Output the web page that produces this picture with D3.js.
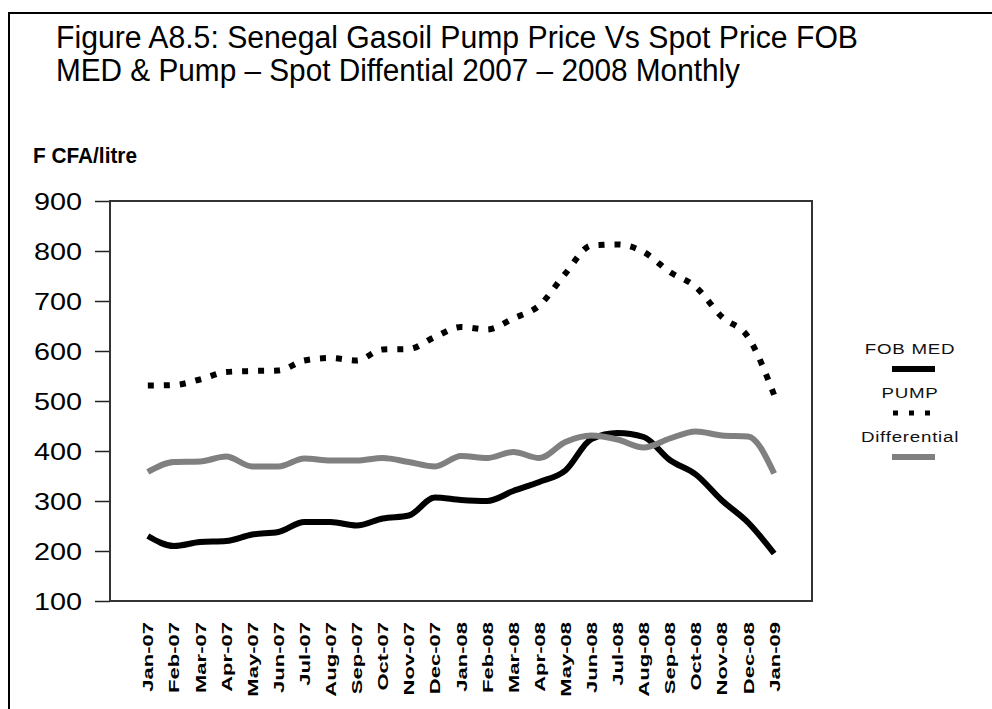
<!DOCTYPE html>
<html>
<head>
<meta charset="utf-8">
<script src="https://cdn.jsdelivr.net/npm/d3@7/dist/d3.min.js"></script>
<style>
  html, body { margin: 0; padding: 0; background: #fff; }
  svg { display: block; font-family: "Liberation Sans", Arial, sans-serif; }
</style>
</head>
<body>
<svg id="chart" width="992" height="709"></svg>
<script>
// Monthly categories, Jan 2007 – Jan 2009
const months = ["Jan-07","Feb-07","Mar-07","Apr-07","May-07","Jun-07","Jul-07","Aug-07",
  "Sep-07","Oct-07","Nov-07","Dec-07","Jan-08","Feb-08","Mar-08","Apr-08","May-08",
  "Jun-08","Jul-08","Aug-08","Sep-08","Oct-08","Nov-08","Dec-08","Jan-09"];

// F CFA per litre
const fobMed = [230, 210, 218, 220, 233, 238, 258, 258, 251, 265, 271, 307,
  302, 300, 320, 338, 361, 424, 436, 428, 382, 353, 301, 257, 195];
const pump = [531, 532, 543, 558, 560, 561, 581, 586, 581, 603, 604, 628,
  648, 643, 665, 691, 755, 811, 813, 798, 758, 728, 668, 628, 512];
const differential = [358, 378, 379, 389, 369, 369, 385, 381, 381, 386, 378, 369,
  390, 386, 398, 386, 418, 431, 423, 407, 425, 439, 431, 429, 355];

const yTicks = [100, 200, 300, 400, 500, 600, 700, 800, 900];
const titleLines = [
  "Figure A8.5: Senegal Gasoil Pump Price Vs Spot Price FOB",
  "MED & Pump \u2013 Spot Diffential 2007 \u2013 2008 Monthly"
];
const yTitle = "F CFA/litre";

const series = [
  { name: "FOB MED", values: fobMed, color: "#000", width: 6, dash: null },
  { name: "PUMP", values: pump, color: "#000", width: 6, dash: "6 10" },
  { name: "Differential", values: differential, color: "#808080", width: 6, dash: null }
];

const svg = d3.select("#chart");

// Outer page frame (open to the right and bottom)
svg.append("path")
  .attr("d", "M9,709 V13 H992")
  .attr("fill", "none").attr("stroke", "#000").attr("stroke-width", 2);

// Title
svg.append("g").selectAll("text").data(titleLines).join("text")
  .attr("x", 56).attr("y", (d, i) => 48 + i * 33)
  .attr("font-size", 31)
  .attr("fill", "#000")
  .attr("textLength", (d, i) => i === 0 ? 802 : 684)
  .attr("lengthAdjust", "spacingAndGlyphs")
  .text(d => d);

// Plot area
const plot = { left: 110, top: 201, right: 812, bottom: 601 };

const x = d3.scalePoint().domain(months)
  .range([plot.left, plot.right]).padding(1.45);
const y = d3.scaleLinear().domain([100, 900])
  .range([plot.bottom, plot.top]);

// Y axis title
svg.append("text")
  .attr("x", 33).attr("y", 163)
  .attr("font-size", 22).attr("font-weight", "bold")
  .attr("textLength", 104).attr("lengthAdjust", "spacingAndGlyphs")
  .text(yTitle);

// Y axis
const yAxis = svg.append("g")
  .attr("transform", `translate(${plot.left},0)`)
  .call(d3.axisLeft(y).tickValues(yTicks).tickSize(15).tickPadding(0));
yAxis.select(".domain").remove();
yAxis.selectAll(".tick line").attr("stroke", "#222").attr("stroke-width", 1.5);
yAxis.selectAll(".tick text")
  .attr("x", null).attr("dy", null)
  .attr("transform", "translate(-28,8.5) scale(1.2,1)")
  .attr("font-size", 24).attr("fill", "#000")
  .attr("font-family", "'Liberation Sans', Arial, sans-serif");

// X axis labels (rotated, no tick marks)
const xAxis = svg.append("g")
  .attr("transform", `translate(0,${plot.bottom})`)
  .call(d3.axisBottom(x).tickSize(0).tickPadding(0));
xAxis.select(".domain").remove();
xAxis.selectAll(".tick text")
  .attr("y", null).attr("dy", null)
  .attr("text-anchor", "end")
  .attr("transform", "translate(5,21) rotate(-90) scale(1.47,1)")
  .attr("font-size", 15).attr("font-weight", "bold").attr("fill", "#000")
  .attr("font-family", "'Liberation Sans', Arial, sans-serif");

// Series lines
const line = d3.line()
  .x((d, i) => x(months[i]))
  .y(d => y(d))
  .curve(d3.curveMonotoneX);

svg.append("g").selectAll("path").data(series).join("path")
  .attr("d", s => line(s.values))
  .attr("fill", "none")
  .attr("stroke", s => s.color)
  .attr("stroke-width", s => s.width)
  .attr("stroke-dasharray", s => s.dash)
  .attr("stroke-linejoin", "round");

// Plot frame
svg.append("rect")
  .attr("x", plot.left).attr("y", plot.top)
  .attr("width", plot.right - plot.left).attr("height", plot.bottom - plot.top)
  .attr("fill", "none").attr("stroke", "#333").attr("stroke-width", 2);

// Legend
const legend = svg.append("g");
const legendRows = legend.selectAll("g").data(series).join("g")
  .attr("transform", (d, i) => `translate(0,${i * 44})`);
legendRows.append("text")
  .attr("text-anchor", "middle")
  .attr("transform", "translate(910,353.5) scale(1.25,1)")
  .attr("font-size", 15).attr("letter-spacing", 0.6)
  .attr("fill", "#111")
  .text(d => d.name);
legendRows.append("line")
  .attr("x1", d => d.dash ? 893 : 892)
  .attr("x2", d => d.dash ? 932 : 935)
  .attr("y1", 369).attr("y2", 369)
  .attr("stroke", d => d.color)
  .attr("stroke-width", d => d.dash ? 5 : 6)
  .attr("stroke-dasharray", d => d.dash ? "5 11" : null);
</script>
</body>
</html>
